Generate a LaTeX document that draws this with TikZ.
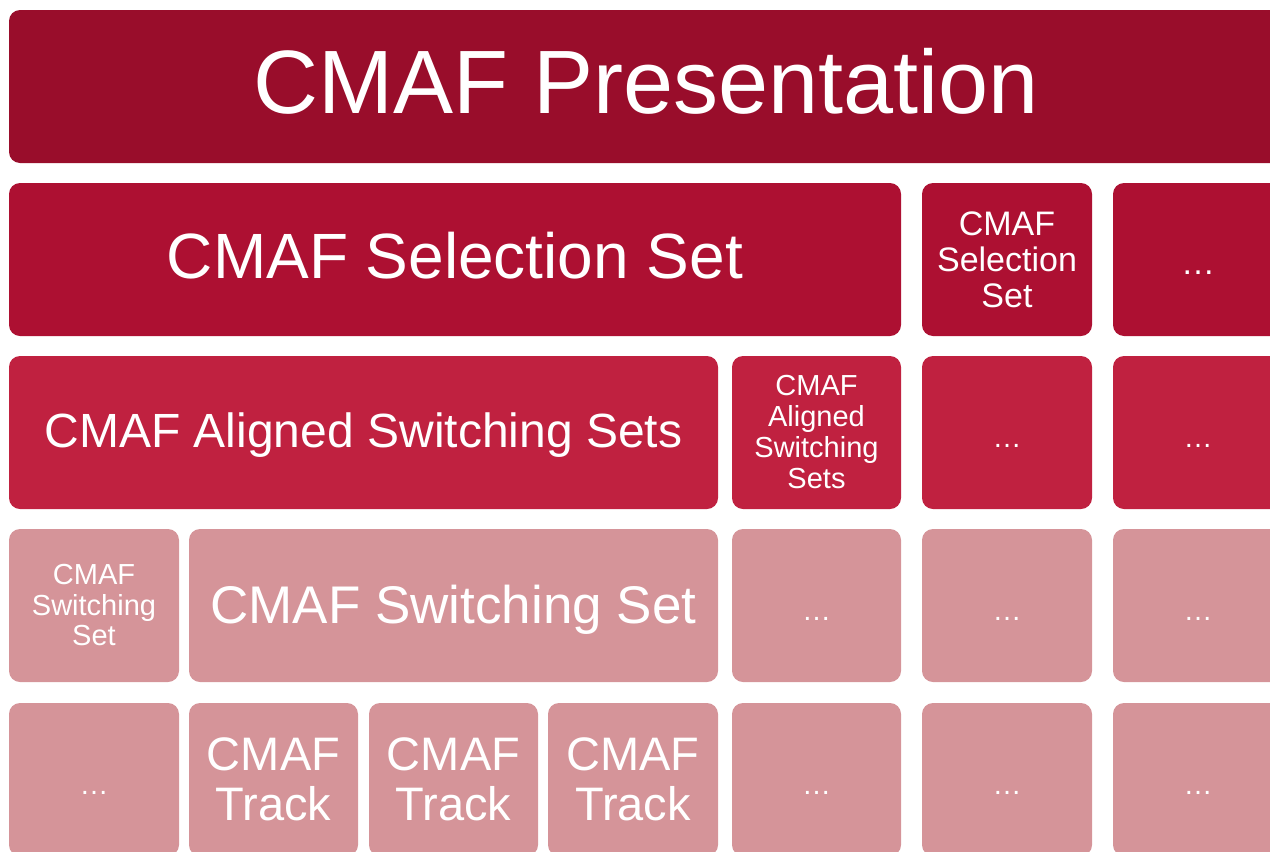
\documentclass[tikz,border=0pt]{standalone}
\usepackage{fontspec}
\setmainfont{Liberation Sans}
\usetikzlibrary{positioning}
\definecolor{presred}{RGB}{153,13,43}
\definecolor{selred}{RGB}{173,16,50}
\definecolor{alignred}{RGB}{192,33,64}
\definecolor{switchpink}{RGB}{213,148,153}
\newcommand{\fs}[2]{\fontsize{#1}{#2}\selectfont}
\tikzset{
  tile/.style={rounded corners=11pt,inner sep=0pt,outer sep=0pt,minimum height=153pt,
    text=white,align=center,anchor=north west},
  small/.style={tile,minimum width=170pt},
  pres/.style={tile,fill=presred},
  sel/.style={tile,fill=selred},
  alig/.style={tile,fill=alignred},
  swit/.style={tile,fill=switchpink},
  more/.style={text height=30pt,text depth=0pt},
  oneline/.style={text height=#1,text depth=0pt}
}
\begin{document}
\begin{tikzpicture}[x=1pt,y=-1pt]
\clip (0,0) rectangle (1270,852);
% presentation
\node[pres,minimum width=1274pt,font=\fs{90}{100},oneline=53.4pt] (pres) at (9,10) {CMAF Presentation};
% selection sets
\node[sel,minimum width=892pt,font=\fs{64}{70},oneline=38.8pt] (sel1) at (9,183) {CMAF Selection Set};
\node[sel,small,font=\fs{34}{36}] (sel2) at (922,183) {CMAF\\Selection\\Set};
\node[sel,small,font=\fs{34}{36},more] (sel3) at (1113,183) {…};
% aligned switching sets
\node[alig,minimum width=709pt,font=\fs{48}{52},oneline=29.4pt] (al1) at (9,356) {CMAF Aligned Switching Sets};
\node[alig,minimum width=169pt,font=\fs{29}{31}] (al2) at (732,356) {CMAF\\Aligned\\Switching\\Sets};
\node[alig,small,font=\fs{29}{31},more] (al3) at (922,356) {…};
\node[alig,small,font=\fs{29}{31},more] (al4) at (1113,356) {…};
% switching sets
\node[swit,small,font=\fs{29}{30.5}] (sw1) at (9,529) {CMAF\\Switching\\Set};
\node[swit,minimum width=529pt,font=\fs{53}{58},oneline=35pt] (sw2) at (189,529) {CMAF Switching Set};
\node[swit,minimum width=169pt,font=\fs{29}{31},more] (sw3) at (732,529) {…};
\node[swit,small,font=\fs{29}{31},more] (sw4) at (922,529) {…};
\node[swit,small,font=\fs{29}{31},more] (sw5) at (1113,529) {…};
% tracks
\node[swit,small,font=\fs{29}{31},more] (tr1) at (9,703) {…};
\node[swit,minimum width=169pt,font=\fs{47}{50}] (tr2) at (189,703) {CMAF\\Track};
\node[swit,minimum width=169pt,font=\fs{47}{50}] (tr3) at (369,703) {CMAF\\Track};
\node[swit,minimum width=170pt,font=\fs{47}{50}] (tr4) at (548,703) {CMAF\\Track};
\node[swit,minimum width=169pt,font=\fs{29}{31},more] (tr5) at (732,703) {…};
\node[swit,small,font=\fs{29}{31},more] (tr6) at (922,703) {…};
\node[swit,small,font=\fs{29}{31},more] (tr7) at (1113,703) {…};
\end{tikzpicture}
\end{document}
